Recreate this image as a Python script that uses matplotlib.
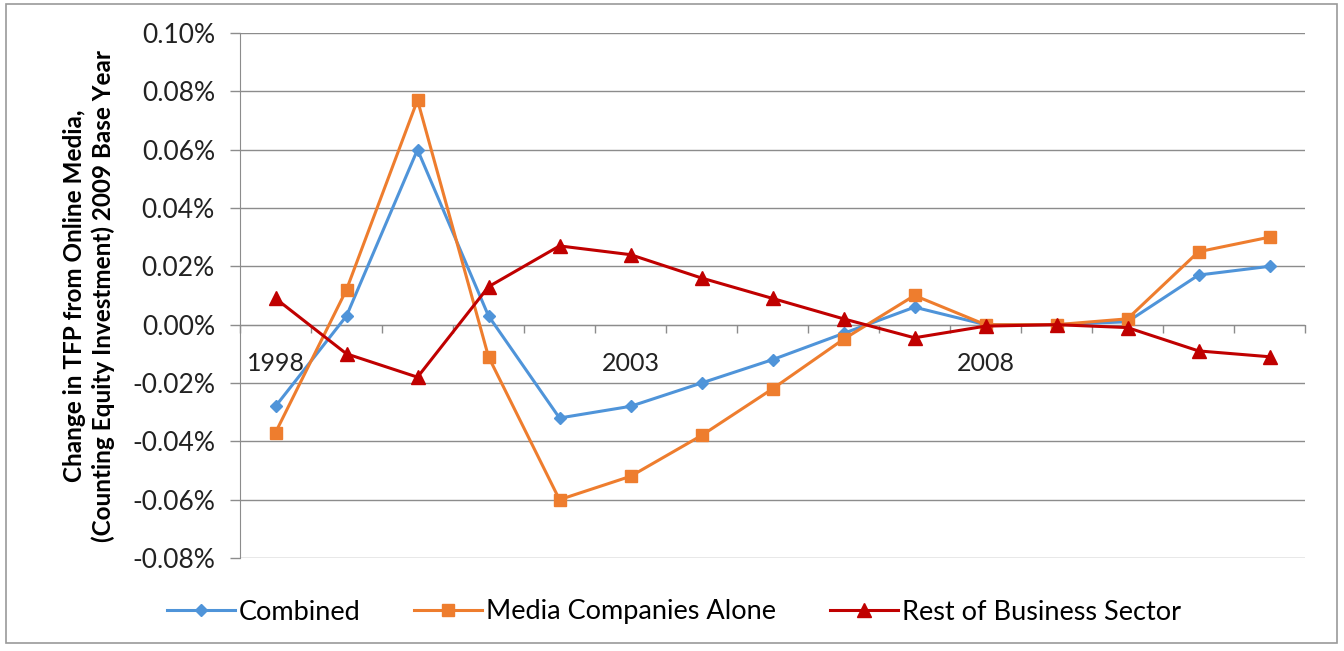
import matplotlib
matplotlib.use("Agg")
import matplotlib.pyplot as plt
from matplotlib.ticker import FuncFormatter, FixedLocator
from matplotlib.patches import Rectangle

years = list(range(1998, 2013))
shown_years = [1998, 2003, 2008]

combined = [-0.028, 0.003, 0.060, 0.003, -0.032, -0.028, -0.020, -0.012,
            -0.003, 0.006, 0.000, 0.000, 0.001, 0.017, 0.020]
media_alone = [-0.037, 0.012, 0.077, -0.011, -0.060, -0.052, -0.038, -0.022,
               -0.005, 0.010, 0.000, 0.000, 0.002, 0.025, 0.030]
rest_business = [0.009, -0.010, -0.018, 0.013, 0.027, 0.024, 0.016, 0.009,
                 0.002, -0.0045, -0.0005, 0.000, -0.001, -0.009, -0.011]

series_names = ["Combined", "Media Companies Alone", "Rest of Business Sector"]
y_ticks = [-0.08, -0.06, -0.04, -0.02, 0.00, 0.02, 0.04, 0.06, 0.08, 0.10]

plt.rcParams['font.family'] = ['Lato', 'DejaVu Sans']

fig = plt.figure(figsize=(13.44, 6.51), dpi=100)
ax = fig.add_axes([240/1344, 1-558/651, (1305-240)/1344, (558-33)/651])

grid_c = '#8c8c8c'
x = list(range(len(years)))

ax.plot(x, combined, color='#4F94D9', lw=2.2, marker='D', ms=6.5,
        label=series_names[0], zorder=3)
ax.plot(x, media_alone, color='#EE7D2E', lw=2.2, marker='s', ms=9,
        label=series_names[1], zorder=3)
ax.plot(x, rest_business, color='#C00000', lw=2.2, marker='^', ms=10,
        label=series_names[2], zorder=4)

ax.set_xlim(-0.5, len(years) - 0.5)
ax.set_ylim(y_ticks[0], y_ticks[-1])

ax.set_yticks(y_ticks)
ax.yaxis.set_major_formatter(FuncFormatter(lambda v, p: f"{v:.2f}%"))
ax.yaxis.grid(True, color=grid_c, lw=1)
ax.set_axisbelow(True)
ax.tick_params(axis='y', length=7, width=1, color=grid_c, pad=11,
               labelsize=19, labelcolor='#222222')

ax.set_xticks(x)
ax.set_xticklabels([str(y) if y in shown_years else "" for y in years])
ax.xaxis.set_minor_locator(FixedLocator([i - 0.5 for i in range(len(years) + 1)]))
ax.tick_params(axis='x', which='major', length=0, pad=19.5, labelsize=18,
               labelcolor='#222222')
ax.tick_params(axis='x', which='minor', length=6, width=1, color=grid_c,
               direction='out')

ax.spines['bottom'].set_position(('data', 0))
ax.spines['bottom'].set_color(grid_c)
ax.spines['left'].set_color(grid_c)
ax.spines['top'].set_visible(False)
ax.spines['right'].set_visible(False)

ax.set_ylabel("Change in TFP from Online Media,\n(Counting Equity Investment) 2009 Base Year",
              fontsize=17.5, fontweight='bold', labelpad=12, linespacing=1.3)

fig.legend(loc='center', bbox_to_anchor=(674/1344, 1-612/651), ncol=3,
           frameon=False, fontsize=19.5, handlelength=2.5, columnspacing=2.0,
           handletextpad=0.15)

fig.patches.append(Rectangle((6/1344, 1-643/651), (1337-6)/1344, (643-4)/651,
                             transform=fig.transFigure, fill=False,
                             edgecolor='#9a9a9a', lw=1.2))

fig.savefig("out.png", dpi=100)
